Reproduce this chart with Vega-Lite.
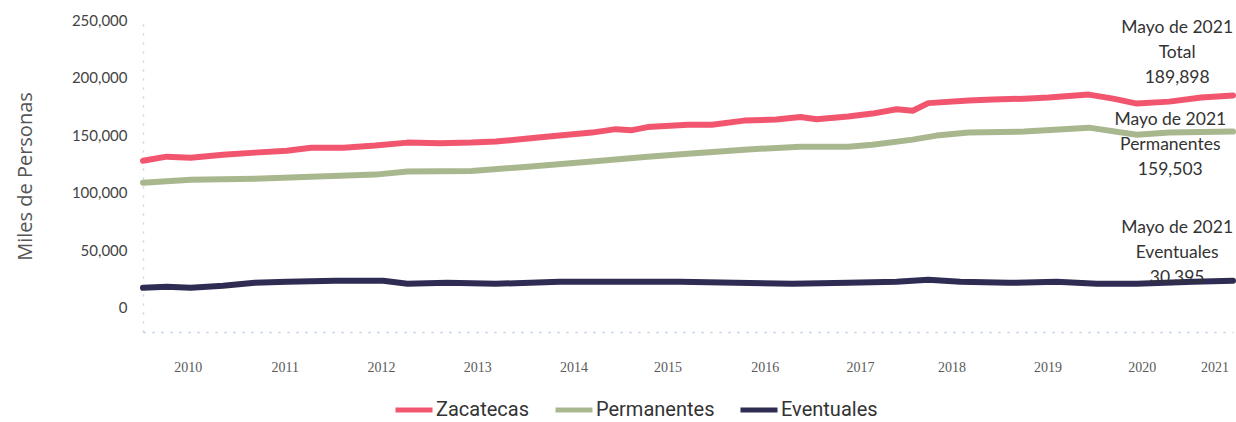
{
  "$schema": "https://vega.github.io/schema/vega-lite/v6.json",
  "width": 1090,
  "height": 312,
  "autosize": {"type": "none"},
  "padding": {"left": 143, "top": 20, "right": 3, "bottom": 90},
  "background": "white",
  "config": {
    "view": {"stroke": null},
    "axis": {"grid": false, "ticks": false}
  },
  "layer": [
    {
      "data": {"values": [
        {"fecha": "2010-01-01", "serie": "Zacatecas", "valor": 127800},
        {"fecha": "2010-04-01", "serie": "Zacatecas", "valor": 131300},
        {"fecha": "2010-07-01", "serie": "Zacatecas", "valor": 130400},
        {"fecha": "2010-11-01", "serie": "Zacatecas", "valor": 133000},
        {"fecha": "2011-03-01", "serie": "Zacatecas", "valor": 134800},
        {"fecha": "2011-07-01", "serie": "Zacatecas", "valor": 136500},
        {"fecha": "2011-10-01", "serie": "Zacatecas", "valor": 139100},
        {"fecha": "2012-02-01", "serie": "Zacatecas", "valor": 139100},
        {"fecha": "2012-06-01", "serie": "Zacatecas", "valor": 140900},
        {"fecha": "2012-10-01", "serie": "Zacatecas", "valor": 143500},
        {"fecha": "2013-02-01", "serie": "Zacatecas", "valor": 143000},
        {"fecha": "2013-06-01", "serie": "Zacatecas", "valor": 143500},
        {"fecha": "2013-09-01", "serie": "Zacatecas", "valor": 144400},
        {"fecha": "2014-01-01", "serie": "Zacatecas", "valor": 147000},
        {"fecha": "2014-05-01", "serie": "Zacatecas", "valor": 149600},
        {"fecha": "2014-09-01", "serie": "Zacatecas", "valor": 152200},
        {"fecha": "2014-12-01", "serie": "Zacatecas", "valor": 155200},
        {"fecha": "2015-02-01", "serie": "Zacatecas", "valor": 154300},
        {"fecha": "2015-04-01", "serie": "Zacatecas", "valor": 157000},
        {"fecha": "2015-09-01", "serie": "Zacatecas", "valor": 159100},
        {"fecha": "2015-12-01", "serie": "Zacatecas", "valor": 159100},
        {"fecha": "2016-04-01", "serie": "Zacatecas", "valor": 162600},
        {"fecha": "2016-08-01", "serie": "Zacatecas", "valor": 163500},
        {"fecha": "2016-11-01", "serie": "Zacatecas", "valor": 165800},
        {"fecha": "2017-01-01", "serie": "Zacatecas", "valor": 163800},
        {"fecha": "2017-05-01", "serie": "Zacatecas", "valor": 166100},
        {"fecha": "2017-08-01", "serie": "Zacatecas", "valor": 168700},
        {"fecha": "2017-11-01", "serie": "Zacatecas", "valor": 172500},
        {"fecha": "2018-01-01", "serie": "Zacatecas", "valor": 171200},
        {"fecha": "2018-03-01", "serie": "Zacatecas", "valor": 177800},
        {"fecha": "2018-08-01", "serie": "Zacatecas", "valor": 180000},
        {"fecha": "2018-11-01", "serie": "Zacatecas", "valor": 180900},
        {"fecha": "2019-03-01", "serie": "Zacatecas", "valor": 181700},
        {"fecha": "2019-06-01", "serie": "Zacatecas", "valor": 182600},
        {"fecha": "2019-11-01", "serie": "Zacatecas", "valor": 185200},
        {"fecha": "2020-02-01", "serie": "Zacatecas", "valor": 181700},
        {"fecha": "2020-05-01", "serie": "Zacatecas", "valor": 177400},
        {"fecha": "2020-09-01", "serie": "Zacatecas", "valor": 179100},
        {"fecha": "2021-01-01", "serie": "Zacatecas", "valor": 182600},
        {"fecha": "2021-05-01", "serie": "Zacatecas", "valor": 184400},

        {"fecha": "2010-01-01", "serie": "Permanentes", "valor": 108700},
        {"fecha": "2010-07-01", "serie": "Permanentes", "valor": 111300},
        {"fecha": "2011-03-01", "serie": "Permanentes", "valor": 112200},
        {"fecha": "2011-10-01", "serie": "Permanentes", "valor": 113900},
        {"fecha": "2012-06-01", "serie": "Permanentes", "valor": 115700},
        {"fecha": "2012-10-01", "serie": "Permanentes", "valor": 118500},
        {"fecha": "2013-06-01", "serie": "Permanentes", "valor": 118800},
        {"fecha": "2014-01-01", "serie": "Permanentes", "valor": 122600},
        {"fecha": "2014-09-01", "serie": "Permanentes", "valor": 127000},
        {"fecha": "2015-04-01", "serie": "Permanentes", "valor": 131300},
        {"fecha": "2015-09-01", "serie": "Permanentes", "valor": 133900},
        {"fecha": "2016-04-01", "serie": "Permanentes", "valor": 137400},
        {"fecha": "2016-11-01", "serie": "Permanentes", "valor": 140000},
        {"fecha": "2017-05-01", "serie": "Permanentes", "valor": 140000},
        {"fecha": "2017-08-01", "serie": "Permanentes", "valor": 141700},
        {"fecha": "2018-01-01", "serie": "Permanentes", "valor": 146100},
        {"fecha": "2018-04-01", "serie": "Permanentes", "valor": 149600},
        {"fecha": "2018-08-01", "serie": "Permanentes", "valor": 152200},
        {"fecha": "2019-03-01", "serie": "Permanentes", "valor": 153100},
        {"fecha": "2019-11-01", "serie": "Permanentes", "valor": 156500},
        {"fecha": "2020-05-01", "serie": "Permanentes", "valor": 150400},
        {"fecha": "2020-09-01", "serie": "Permanentes", "valor": 152200},
        {"fecha": "2021-05-01", "serie": "Permanentes", "valor": 153100},

        {"fecha": "2010-01-01", "serie": "Eventuales", "valor": 17400},
        {"fecha": "2010-04-01", "serie": "Eventuales", "valor": 18300},
        {"fecha": "2010-07-01", "serie": "Eventuales", "valor": 17400},
        {"fecha": "2010-11-01", "serie": "Eventuales", "valor": 19100},
        {"fecha": "2011-03-01", "serie": "Eventuales", "valor": 21700},
        {"fecha": "2011-07-01", "serie": "Eventuales", "valor": 22600},
        {"fecha": "2012-01-01", "serie": "Eventuales", "valor": 23500},
        {"fecha": "2012-07-01", "serie": "Eventuales", "valor": 23500},
        {"fecha": "2012-10-01", "serie": "Eventuales", "valor": 20900},
        {"fecha": "2013-03-01", "serie": "Eventuales", "valor": 21700},
        {"fecha": "2013-09-01", "serie": "Eventuales", "valor": 20900},
        {"fecha": "2014-05-01", "serie": "Eventuales", "valor": 22600},
        {"fecha": "2015-01-01", "serie": "Eventuales", "valor": 22600},
        {"fecha": "2015-08-01", "serie": "Eventuales", "valor": 22600},
        {"fecha": "2016-03-01", "serie": "Eventuales", "valor": 21700},
        {"fecha": "2016-10-01", "serie": "Eventuales", "valor": 20900},
        {"fecha": "2017-05-01", "serie": "Eventuales", "valor": 21700},
        {"fecha": "2017-11-01", "serie": "Eventuales", "valor": 22600},
        {"fecha": "2018-03-01", "serie": "Eventuales", "valor": 24300},
        {"fecha": "2018-07-01", "serie": "Eventuales", "valor": 22600},
        {"fecha": "2019-01-01", "serie": "Eventuales", "valor": 21700},
        {"fecha": "2019-07-01", "serie": "Eventuales", "valor": 22600},
        {"fecha": "2019-12-01", "serie": "Eventuales", "valor": 20900},
        {"fecha": "2020-05-01", "serie": "Eventuales", "valor": 20900},
        {"fecha": "2020-12-01", "serie": "Eventuales", "valor": 22600},
        {"fecha": "2021-05-01", "serie": "Eventuales", "valor": 23500}
      ]},
      "mark": {"type": "line", "strokeWidth": 6, "strokeCap": "round", "strokeJoin": "round", "interpolate": "linear"},
      "encoding": {
        "x": {
          "field": "fecha", "type": "temporal",
          "scale": {"domain": ["2010-01-01", "2021-05-01"]},
          "axis": {
            "title": null,
            "format": "%Y",
            "values": [
              {"year": 2010, "month": 6, "date": 20},
              {"year": 2011, "month": 6, "date": 23},
              {"year": 2012, "month": 6, "date": 23},
              {"year": 2013, "month": 6, "date": 23},
              {"year": 2014, "month": 6, "date": 23},
              {"year": 2015, "month": 6, "date": 15},
              {"year": 2016, "month": 6, "date": 18},
              {"year": 2017, "month": 6, "date": 15},
              {"year": 2018, "month": 5, "date": 28},
              {"year": 2019, "month": 5, "date": 28},
              {"year": 2020, "month": 5, "date": 20},
              {"year": 2021, "month": 2, "date": 20}
            ],
            "labelFont": "Liberation Serif",
            "labelFontSize": 14,
            "labelColor": "#5a5a5a",
            "labelPadding": 28,
            "labelAngle": 0,
            "domainColor": "#b8cbe6",
            "domainDash": [2, 7],
            "domainWidth": 1.5
          }
        },
        "y": {
          "field": "valor", "type": "quantitative",
          "scale": {"domain": [-21000, 250000], "nice": false, "zero": false},
          "axis": {
            "title": "Miles de Personas",
            "titleFont": "Open Sans",
            "titleFontSize": 20,
            "titleFontWeight": "normal",
            "titleColor": "#555555",
            "titleAngle": -90,
            "titleAlign": "center",
            "titleBaseline": "middle",
            "titleX": -118,
            "titleY": 156,
            "values": [0, 50000, 100000, 150000, 200000, 250000],
            "format": ",d",
            "labelFont": "Lato",
            "labelFontSize": 15,
            "labelColor": "#444444",
            "labelPadding": 16,
            "domainColor": "#c8d4e6",
            "domainDash": [2, 7],
            "domainWidth": 1.5
          }
        },
        "color": {
          "field": "serie", "type": "nominal",
          "scale": {
            "domain": ["Zacatecas", "Permanentes", "Eventuales"],
            "range": ["#f2566f", "#a9b78f", "#2e2c52"]
          },
          "legend": {
            "title": null,
            "orient": "none",
            "legendX": 250,
            "legendY": 369,
            "direction": "horizontal",
            "symbolType": "stroke",
            "symbolSize": 1369,
            "symbolStrokeWidth": 5,
            "labelFont": "Roboto",
            "labelFontSize": 20,
            "labelColor": "#333333",
            "labelOffset": 1,
            "columnPadding": 15
          }
        }
      }
    },
    {
      "data": {"values": [
        {"fecha": "2020-10-01", "valor": 242700, "texto": "Mayo de 2021\nTotal\n189,898"},
        {"fecha": "2020-09-05", "valor": 163000, "texto": "Mayo de 2021\nPermanentes\n159,503"},
        {"fecha": "2020-10-01", "valor": 69200, "texto": "Mayo de 2021\nEventuales\n30,395"}
      ]},
      "mark": {"type": "text", "font": "Lato", "fontSize": 17.5, "color": "#333333", "lineBreak": "\n", "lineHeight": 25, "align": "center", "baseline": "middle"},
      "encoding": {
        "x": {"field": "fecha", "type": "temporal"},
        "y": {"field": "valor", "type": "quantitative"},
        "text": {"field": "texto"}
      }
    }
  ]
}
